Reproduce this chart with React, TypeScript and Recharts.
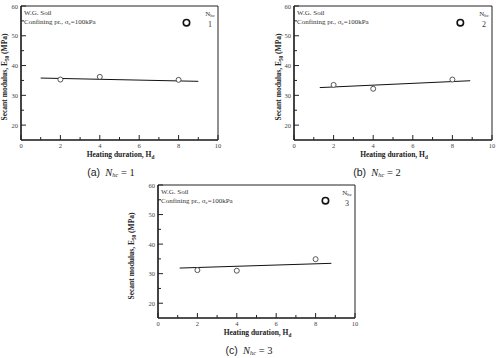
import React from 'react';
import { ScatterChart, Scatter, XAxis, YAxis, ReferenceArea } from 'recharts';

// heating duration (hours) of the measured points
const hours = [2, 4, 8];

// secant modulus E50 (MPa) for each number of heating cycles
const modulusA = [35.3, 36.2, 35.2];
const modulusB = [33.5, 32.2, 35.3];
const modulusC = [31.2, 31.0, 34.9];

// fitted trend lines (end points)
const fitHoursA = [1.0, 9.0];
const fitModA = [35.8, 34.7];
const fitHoursB = [1.3, 8.9];
const fitModB = [32.6, 34.9];
const fitHoursC = [1.1, 8.8];
const fitModC = [31.9, 33.5];

// legend marker position
const legendA = [8.4, 54.4];
const legendB = [8.4, 54.4];
const legendC = [8.5, 54.7];

const xTicks = [0, 1, 2, 3, 4, 5, 6, 7, 8, 9, 10];
const yTicks = [20, 25, 30, 35, 40, 45, 50, 55, 60];

const serif = '"Liberation Serif", "DejaVu Serif", serif';
const sans = '"Liberation Sans", Arial, sans-serif';

const toPoints = (xs: number[], ys: number[]) => xs.map((x, i) => ({ x, y: ys[i] }));

const XTick = (props: any) => {
  const { x, y, payload } = props;
  const v = payload.value;
  const major = v % 2 === 0;
  return (
    <g>
      <line x1={x} x2={x} y1={y} y2={y - (major ? 5 : 3)} stroke="#222" strokeWidth={1} />
      {major && (
        <text x={x} y={y + 8} textAnchor="middle" fontSize={6.5} fill="#444" fontFamily={serif}>
          {v}
        </text>
      )}
    </g>
  );
};

const YTick = (props: any) => {
  const { x, y, payload } = props;
  const v = payload.value;
  const major = v % 10 === 0;
  return (
    <g>
      <line x1={x} x2={x + (major ? 5 : 3)} y1={y} y2={y} stroke="#222" strokeWidth={1} />
      {major && (
        <text x={x - 3} y={y + 2.5} textAnchor="end" fontSize={6.5} fill="#444" fontFamily={serif}>
          {v}
        </text>
      )}
    </g>
  );
};

const OpenDot = (p: any) => <circle cx={p.cx} cy={p.cy} r={2.5} fill="#fff" stroke="#444" strokeWidth={0.9} />;
const LegendDot = (p: any) => <circle cx={p.cx} cy={p.cy} r={3.2} fill="none" stroke="#111" strokeWidth={1.6} />;
const NoDot = () => <g />;

type PanelProps = {
  px: number; py: number; pw: number; ph: number;
  values: number[]; fitX: number[]; fitY: number[]; legend: number[];
  digit: string; letter: string; yLabelDx: number; capDx: number; xLabelDy: number;
};

const Panel = ({ px, py, pw, ph, values, fitX, fitY, legend, digit, letter, yLabelDx, capDx, xLabelDy }: PanelProps) => {
  const yAxisW = 22;
  const top = 4;
  const right = 4;
  const xAxisH = 14;
  const subStyle: React.CSSProperties = { fontSize: '0.7em', verticalAlign: '-0.25em' };
  return (
    <>
      <div style={{ position: 'absolute', left: px - yAxisW, top: py - top }}>
        <ScatterChart
          width={pw + yAxisW + right}
          height={ph + top + xAxisH}
          margin={{ top, right, bottom: 0, left: 0 }}
        >
          <XAxis
            type="number" dataKey="x" domain={[0, 10]} ticks={xTicks} interval={0}
            tickSize={0} tickMargin={0} height={xAxisH} tick={<XTick />}
            axisLine={{ stroke: '#111', strokeWidth: 1.2 }}
          />
          <YAxis
            type="number" dataKey="y" domain={[15, 60]} ticks={yTicks} interval={0}
            tickSize={0} tickMargin={0} width={yAxisW} tick={<YTick />}
            axisLine={{ stroke: '#111', strokeWidth: 1.2 }}
          />
          <ReferenceArea x1={0} x2={10} y1={15} y2={60} fill="none" stroke="#222" strokeWidth={1} fillOpacity={0} />
          <Scatter
            data={toPoints(fitX, fitY)} line={{ stroke: '#111', strokeWidth: 1 }}
            shape={<NoDot />} isAnimationActive={false}
          />
          <Scatter data={toPoints(hours, values)} shape={<OpenDot />} isAnimationActive={false} />
          <Scatter data={[{ x: legend[0], y: legend[1] }]} shape={<LegendDot />} isAnimationActive={false} />
        </ScatterChart>
      </div>

      {/* annotation inside the plot */}
      <div style={{ position: 'absolute', left: px + 3, top: py + 3, fontFamily: serif, fontSize: 7, lineHeight: '8.5px', color: '#333', whiteSpace: 'nowrap' }}>
        <div>W.G. Soil</div>
        <div>Confining pr., σ<span style={subStyle}>c</span>=100kPa</div>
      </div>
      <div style={{ position: 'absolute', left: px + pw - 14, top: py + 4, width: 12, textAlign: 'center', fontFamily: serif, fontSize: 7, lineHeight: '9px', color: '#333' }}>
        <div>N<span style={subStyle}>hc</span></div>
        <div style={{ fontSize: 8 }}>{digit}</div>
      </div>

      {/* axis titles */}
      <div
        style={{
          position: 'absolute', left: px + yLabelDx, top: py + ph / 2 + 4,
          transform: 'translate(-50%, -50%) rotate(-90deg)', whiteSpace: 'nowrap',
          fontFamily: serif, fontSize: 7.5, fontWeight: 'bold', color: '#222',
        }}
      >
        Secant modulus, E<span style={subStyle}>50</span> (MPa)
      </div>
      <div
        style={{
          position: 'absolute', left: px + pw / 2 + 1, top: py + ph + xLabelDy,
          transform: 'translate(-50%, -50%)', whiteSpace: 'nowrap', lineHeight: '9px',
          fontFamily: serif, fontSize: 7.5, fontWeight: 'bold', color: '#222',
        }}
      >
        Heating duration, H<span style={subStyle}>d</span>
      </div>

      {/* caption */}
      <div
        style={{
          position: 'absolute', left: px + capDx, top: py + ph + 32,
          transform: 'translate(-50%, -50%)', whiteSpace: 'nowrap', color: '#222', fontSize: 10.5,
        }}
      >
        <span style={{ fontFamily: sans }}>({letter})</span>
        <span style={{ fontFamily: serif }}>
          {'\u00a0\u00a0'}<i>N</i><i style={{ fontSize: '0.6em', verticalAlign: '-0.3em' }}>hc</i> = {digit}
        </span>
      </div>
    </>
  );
};

export default function App() {
  return (
    <div style={{ position: 'absolute', left: 0, top: 0, width: 500, height: 358, background: '#fff', overflow: 'hidden' }}>
      <Panel px={21} py={6} pw={197} ph={134} values={modulusA} fitX={fitHoursA} fitY={fitModA} legend={legendA}
        digit="1" letter="a" yLabelDx={-16} capDx={90} xLabelDy={16} />
      <Panel px={294} py={6} pw={198} ph={134} values={modulusB} fitX={fitHoursB} fitY={fitModB} legend={legendB}
        digit="2" letter="b" yLabelDx={-15} capDx={83} xLabelDy={16} />
      <Panel px={158} py={185} pw={197} ph={133} values={modulusC} fitX={fitHoursC} fitY={fitModC} legend={legendC}
        digit="3" letter="c" yLabelDx={-26} capDx={91} xLabelDy={16} />
    </div>
  );
}
